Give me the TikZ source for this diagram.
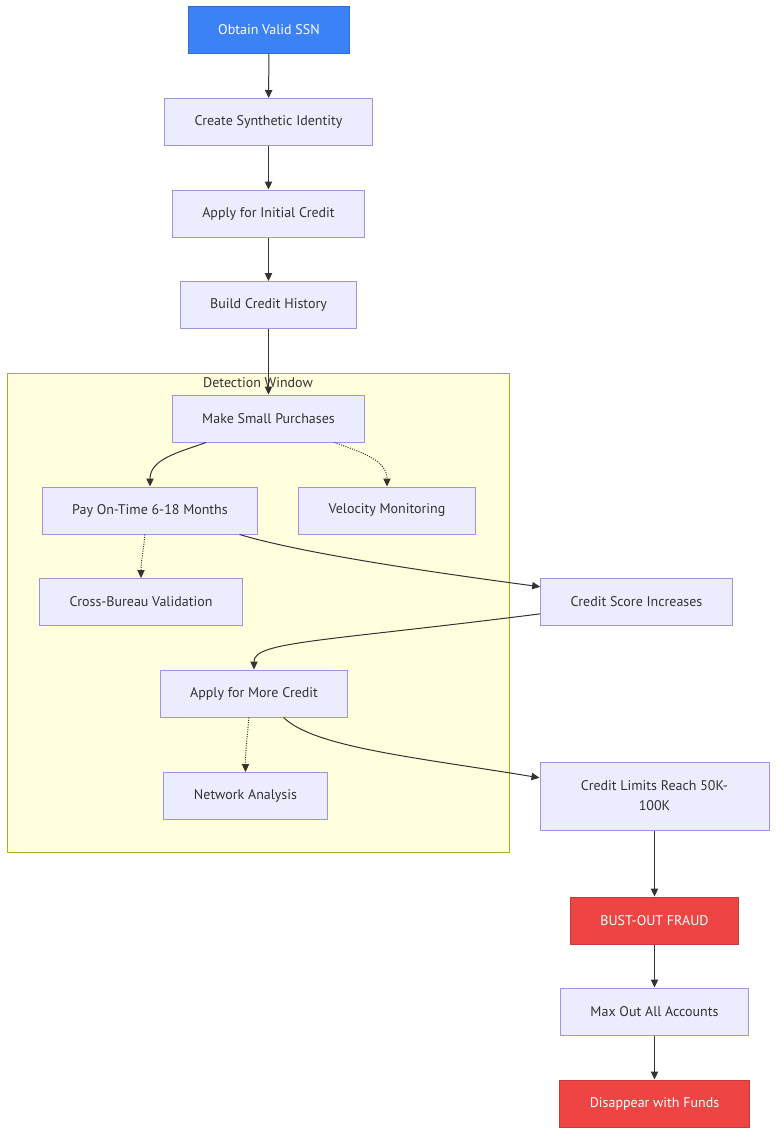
\documentclass[tikz,border=0pt]{standalone}
\usepackage{fontspec}
\setmainfont{PT Sans}
\usetikzlibrary{arrows.meta}

\definecolor{boxfill}{HTML}{ECECFF}
\definecolor{boxline}{HTML}{A193DD}
\definecolor{winfill}{HTML}{FFFFDE}
\definecolor{winline}{HTML}{AAAA33}
\definecolor{ssnblue}{HTML}{3B82F6}
\definecolor{fraudred}{HTML}{EF4444}
\definecolor{edgegray}{HTML}{333333}

\begin{document}
\begin{tikzpicture}[
    x=0.75pt, y=-0.75pt,
    % Styles of the steps
    step box/.style={rectangle, draw=boxline, fill=boxfill, line width=0.75pt,
                     minimum height=35.25pt, inner xsep=22.5pt, align=center,
                     font=\fontsize{10.5}{15}\selectfont, text=edgegray},
    start box/.style={step box, draw=ssnblue!85!black, fill=ssnblue, text=white},
    fraud box/.style={step box, draw=fraudred!85!black, fill=fraudred, text=white},
    % Style of the detection zone
    window/.style={rectangle, draw=winline, fill=winfill, line width=0.75pt,
                   minimum width=376.5pt, minimum height=359.25pt},
    % Styles of the arrows
    arrow/.style={-{Triangle[length=6pt,width=5.5pt]}, line width=0.75pt, color=edgegray},
    check/.style={arrow, densely dotted}
]
\useasboundingbox (0,0) rectangle (784,1147);
\fill[white] (0,0) rectangle (784,1147);

% ==========================================
% DETECTION WINDOW (background)
% ==========================================
\node[window] (window) at (258,612.5) {};
\node[font=\fontsize{10.5}{15}\selectfont, text=edgegray] (windowlabel) at (258,383) {Detection Window};

% ==========================================
% BUILD-UP PHASE
% ==========================================
\node[start box] (ssn) at (269,30) {Obtain Valid SSN};
\node[step box] (synth) at (268.5,122) {Create Synthetic Identity};
\node[step box] (initial) at (268.5,213.5) {Apply for Initial Credit};
\node[step box] (history) at (268.5,305) {Build Credit History};

% Inside the window
\node[step box] (purchases) at (268.5,418.5) {Make Small Purchases};
\node[step box] (ontime) at (150,510.5) {Pay On-Time 6-18 Months};
\node[step box] (velocity) at (387,510.5) {Velocity Monitoring};
\node[step box] (bureau) at (141,602) {Cross-Bureau Validation};
\node[step box] (morecredit) at (254,693.5) {Apply for More Credit};
\node[step box] (network) at (245.5,796) {Network Analysis};

% Right column
\node[step box] (score) at (636.5,602) {Credit Score Increases};
\node[step box, minimum height=51pt, minimum width=171.75pt] (limits) at (654.5,796) {Credit Limits Reach 50K-\\100K};

% ==========================================
% BUST-OUT PHASE
% ==========================================
\node[fraud box] (bustout) at (654.5,920.5) {BUST-OUT FRAUD};
\node[step box] (maxout) at (654.5,1011.5) {Max Out All Accounts};
\node[fraud box] (disappear) at (654.5,1103.5) {Disappear with Funds};

% Arrows
\draw[arrow] (ssn) -- (synth);
\draw[arrow] (synth) -- (initial);
\draw[arrow] (initial) -- (history);
\draw[arrow] (history) -- (purchases);
\draw[arrow] (purchases.201) to[out=200, in=90] (ontime.north);
\draw[check] (purchases.340) to[out=-20, in=90] (velocity.north);
\draw[check] (ontime.258) to[out=-95, in=90] (bureau.north);
\draw[arrow] (ontime.345) .. controls +(60,18) and +(-120,-16) .. (score.171);
\draw[arrow] (score.187) .. controls +(-220,28) and +(0,-28) .. (morecredit.north);
\draw[check] (morecredit.258) to[out=-95, in=90] (network.north);
\draw[arrow] (morecredit.321) .. controls +(30,30) and +(-120,-20) .. (limits.171);
\draw[arrow] (limits) -- (bustout);
\draw[arrow] (bustout) -- (maxout);
\draw[arrow] (maxout) -- (disappear);

\end{tikzpicture}
\end{document}
